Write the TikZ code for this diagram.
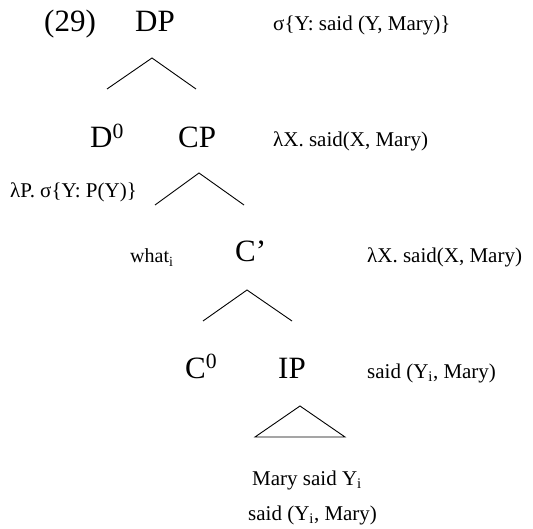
\documentclass[tikz,border=0pt]{standalone}
\usepackage{fontspec}
\setmainfont{Liberation Serif}
\usepackage{tikz}

\tikzset{
  cat/.style={anchor=base west, inner sep=0pt, font=\fontsize{31}{36}\selectfont},
  sem/.style={anchor=base west, inner sep=0pt, font=\fontsize{21}{25}\selectfont},
  word/.style={anchor=base west, inner sep=0pt, font=\fontsize{20}{24}\selectfont},
  branch/.style={line width=0.9pt}
}

\begin{document}
\begin{tikzpicture}[x=1pt, y=-1pt]
        \useasboundingbox (0,0) rectangle (533,529);

        % categories
        \node[cat] (ex) at (44,32) {(29)};
        \node[cat] (dp) at (135,32) {DP};
        \node[cat] (d0) at (90,148) {D\textsuperscript{0}};
        \node[cat] (cp) at (178,148) {CP};
        \node[word] (wh) at (130,263) {what\textsubscript{i}};
        \node[cat] (cb) at (235,262) {C'};
        \node[cat] (c0) at (185,378) {C\textsuperscript{0}};
        \node[cat] (ip) at (278,378) {IP};

        % meanings
        \node[sem] (s-dp) at (273,31) {σ\{Y: said (Y, Mary)\}};
        \node[sem] (s-cp) at (273,147) {λX. said(X, Mary)};
        \node[sem] (s-d0) at (10,198) {λP. σ\{Y: P(Y)\}};
        \node[sem] (s-cb) at (367,263) {λX. said(X, Mary)};
        \node[sem] (s-ip) at (367,378) {said (Y\textsubscript{i}, Mary)};
        \node[sem] (str) at (252,485) {Mary said Y\textsubscript{i}};
        \node[sem] (s-str) at (248,520) {said (Y\textsubscript{i}, Mary)};

        % branches
        \coordinate (t1) at (152,58);  \coordinate (l1) at (107,89);  \coordinate (r1) at (196,89);
        \coordinate (t2) at (199,173); \coordinate (l2) at (155,205); \coordinate (r2) at (244,205);
        \coordinate (t3) at (247,290); \coordinate (l3) at (203,321); \coordinate (r3) at (292,321);
        \coordinate (t4) at (300,406); \coordinate (l4) at (255,437); \coordinate (r4) at (345,437);
        \draw[branch] (l1)--(t1)--(r1);
        \draw[branch] (l2)--(t2)--(r2);
        \draw[branch] (l3)--(t3)--(r3);
        \draw[branch] (l4)--(t4)--(r4)--cycle;
    \end{tikzpicture}
\end{document}
